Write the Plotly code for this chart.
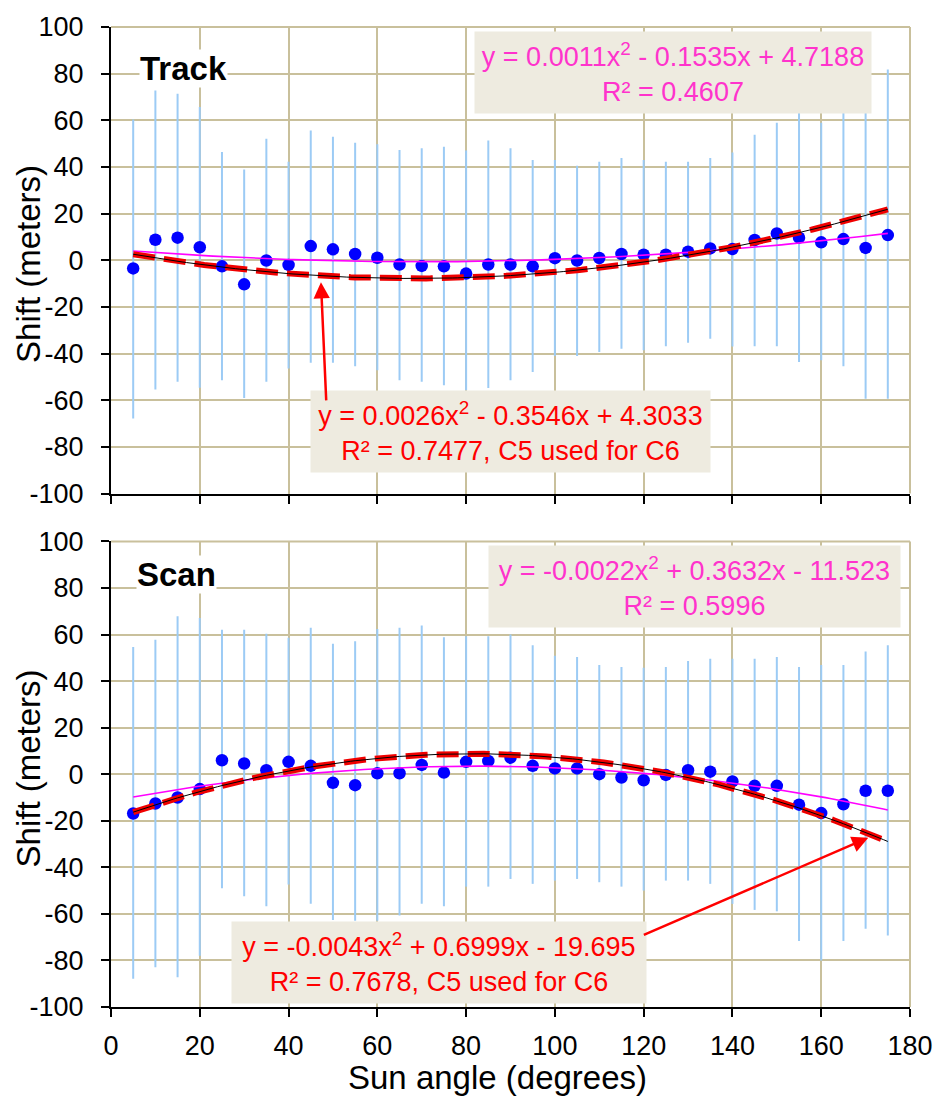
import numpy as np
import plotly.graph_objects as go

# ---------------- data ----------------
angles = [5, 10, 15, 20, 25, 30, 35, 40, 45, 50, 55, 60, 65, 70, 75, 80, 85, 90,
          95, 100, 105, 110, 115, 120, 125, 130, 135, 140, 145, 150, 155, 160, 165, 170, 175]

track_shift = [-3.5, 8.8, 9.7, 5.6, -2.6, -10.3, -0.1, -2.0, 6.1, 4.7,
               2.7, 1.1, -1.8, -2.4, -2.6, -5.7, -1.8, -1.8, -2.6, 0.9,
               -0.1, 1.0, 2.7, 2.4, 2.4, 3.7, 5.1, 4.8, 8.7, 11.5,
               9.7, 7.7, 9.1, 5.3, 10.8]
track_upper = [60.4, 72.8, 71.4, 65.7, 46.4, 38.9, 52.1, 42.2, 55.6, 53.0,
               50.4, 49.7, 47.3, 48.0, 48.7, 47.1, 51.4, 48.0, 43.0, 43.0,
               40.5, 42.2, 43.9, 43.0, 42.2, 42.2, 43.9, 46.2, 53.8, 59.0,
               64.0, 59.0, 64.0, 64.0, 81.8]
track_lower = [-67.8, -55.4, -52.1, -54.6, -51.4, -59.0, -52.1, -46.4, -43.9, -43.9,
               -45.4, -47.1, -51.4, -52.1, -53.6, -55.7, -54.7, -51.4, -47.9, -41.0,
               -41.0, -39.3, -37.9, -38.6, -36.9, -35.3, -33.6, -37.0, -36.9, -36.9,
               -43.6, -42.9, -45.4, -59.3, -59.3]

scan_shift = [-16.9, -12.6, -10.0, -6.4, 6.0, 4.6, 1.7, 5.3, 3.6, -3.7,
              -4.7, 0.4, 0.4, 4.0, 0.7, 5.3, 5.7, 7.1, 3.6, 2.5,
              2.5, 0.0, -1.4, -2.6, -0.3, 1.7, 1.1, -3.1, -5.0, -5.0,
              -13.1, -16.7, -12.9, -7.1, -7.1]
scan_upper = [54.6, 57.7, 67.8, 67.1, 62.1, 62.1, 60.3, 58.6, 62.9, 56.0,
              57.1, 62.4, 62.9, 63.9, 58.8, 59.3, 59.3, 60.0, 55.4, 50.9,
              50.3, 46.9, 46.1, 45.7, 46.1, 48.6, 49.6, 49.6, 49.6, 50.3,
              46.1, 46.9, 46.9, 52.7, 55.4]
scan_lower = [-87.9, -82.9, -87.2, -78.0, -49.0, -52.4, -56.7, -47.4, -55.7, -62.6,
              -62.9, -62.9, -60.7, -55.7, -56.7, -48.3, -48.3, -45.0, -47.1, -45.7,
              -45.0, -46.4, -48.3, -50.0, -45.7, -45.7, -47.1, -55.7, -58.3, -58.9,
              -71.7, -80.0, -71.7, -66.4, -69.3]

# trendline coefficients shown on the chart (x^2, x, 1)
track_fit_c5 = [0.0026, -0.3546, 4.3033]
track_fit_c6 = [0.0011, -0.1535, 4.7188]
scan_fit_c5 = [-0.0043, 0.6999, -19.695]
scan_fit_c6 = [-0.0022, 0.3632, -11.523]

track_eq_c6 = "y = 0.0011x<sup>2</sup> - 0.1535x + 4.7188<br>R² = 0.4607"
track_eq_c5 = "y = 0.0026x<sup>2</sup> - 0.3546x + 4.3033<br>R² = 0.7477, C5 used for C6"
scan_eq_c6 = "y = -0.0022x<sup>2</sup> + 0.3632x - 11.523<br>R² = 0.5996"
scan_eq_c5 = "y = -0.0043x<sup>2</sup> + 0.6999x - 19.695<br>R² = 0.7678, C5 used for C6"

x_ticks = [0, 20, 40, 60, 80, 100, 120, 140, 160, 180]
x_labels = ["0", "20", "40", "60", "80", "100", "120", "140", "160", "180"]
y_ticks = [-100, -80, -60, -40, -20, 0, 20, 40, 60, 80, 100]
y_labels = ["-100", "-80", "-60", "-40", "-20", "0", "20", "40", "60", "80", "100"]

# ---------------- styling ----------------
FONT = "Liberation Sans, Arial, sans-serif"
GRID = "#C9C09C"
BOXBG = "#EEEBE0"
MAGENTA_TXT = "#FF33CC"

fig = go.Figure()

xfit = np.linspace(min(angles), max(angles), 171)


def add_panel(shift, upper, lower, c5, c6, xa, ya):
    ep = [u - s for u, s in zip(upper, shift)]
    em = [s - l for s, l in zip(shift, lower)]
    fig.add_trace(go.Scatter(
        x=angles, y=shift, mode="markers", xaxis=xa, yaxis=ya,
        marker=dict(color="#0000FF", size=12.5),
        error_y=dict(type="data", symmetric=False, array=ep, arrayminus=em,
                     color="#9CCBF5", thickness=2, width=0),
        showlegend=False, hoverinfo="x+y"))
    fig.add_trace(go.Scatter(
        x=xfit, y=np.polyval(c6, xfit), mode="lines", xaxis=xa, yaxis=ya,
        line=dict(color="#FF00FF", width=1.6), showlegend=False))
    fig.add_trace(go.Scatter(
        x=xfit, y=np.polyval(c5, xfit), mode="lines", xaxis=xa, yaxis=ya,
        line=dict(color="#F00000", width=6, dash="22px,9px"), showlegend=False))
    fig.add_trace(go.Scatter(
        x=xfit, y=np.polyval(c5, xfit), mode="lines", xaxis=xa, yaxis=ya,
        line=dict(color="#000000", width=1.0), showlegend=False))


add_panel(track_shift, track_upper, track_lower, track_fit_c5, track_fit_c6, "x", "y")
add_panel(scan_shift, scan_upper, scan_lower, scan_fit_c5, scan_fit_c6, "x2", "y2")

axis_common = dict(
    range=[0, 180], tickvals=x_ticks, ticktext=x_labels, showgrid=True, gridcolor=GRID, gridwidth=2,
    zeroline=False, showline=True, linecolor="black", linewidth=2,
    ticks="outside", ticklen=8, tickwidth=2, tickcolor="black",
    tickfont=dict(family=FONT, size=27, color="black"), ticklabelstandoff=6,
)
yaxis_common = dict(
    range=[-100, 100], tickvals=y_ticks, ticktext=y_labels, showgrid=True, gridcolor=GRID, gridwidth=2,
    zeroline=False, showline=True, linecolor="black", linewidth=2,
    ticks="outside", ticklen=8, tickwidth=2, tickcolor="black",
    tickfont=dict(family=FONT, size=27, color="black"), ticklabelstandoff=12,
)

fig.update_layout(
    width=945, height=1104,
    margin=dict(l=111, r=28, t=24, b=97),
    paper_bgcolor="white", plot_bgcolor="white",
    font=dict(family=FONT, color="black"),
    xaxis=dict(axis_common, anchor="y", domain=[0, 1], showticklabels=False),
    yaxis=dict(yaxis_common, anchor="x", domain=[0.5239, 1]),
    xaxis2=dict(axis_common, anchor="y2", domain=[0, 1]),
    yaxis2=dict(yaxis_common, anchor="x2", domain=[0, 0.4751]),
)

# frame on top / right in grid colour
for xr, yr in (("x domain", "y domain"), ("x2 domain", "y2 domain")):
    fig.add_shape(type="line", xref=xr, yref=yr, x0=0, x1=1, y0=1, y1=1,
                  line=dict(color=GRID, width=2), layer="below")
    fig.add_shape(type="line", xref=xr, yref=yr, x0=1, x1=1, y0=0, y1=1,
                  line=dict(color=GRID, width=2), layer="below")

ann = []
# panel labels
ann.append(dict(x=16.3, y=82, xref="x", yref="y", text="<b>Track</b>", showarrow=False,
                font=dict(family=FONT, size=33, color="black"), bgcolor="white", borderpad=0))
ann.append(dict(x=14.7, y=85.8, xref="x2", yref="y2", text="<b>Scan</b>", showarrow=False,
                font=dict(family=FONT, size=33, color="black"), bgcolor="white", borderpad=0))

# equation boxes
ann.append(dict(x=126.6, y=80.6, xref="x", yref="y", text=track_eq_c6, showarrow=False,
                font=dict(family=FONT, size=27, color=MAGENTA_TXT), bgcolor=BOXBG,
                width=392, height=77, borderpad=2, align="center"))
ann.append(dict(x=89.9, y=-73.3, xref="x", yref="y", text=track_eq_c5, showarrow=False,
                font=dict(family=FONT, size=27, color="#FF0000"), bgcolor=BOXBG,
                width=395, height=77, borderpad=2, align="center"))
ann.append(dict(x=131.4, y=80.5, xref="x2", yref="y2", text=scan_eq_c6, showarrow=False,
                font=dict(family=FONT, size=27, color=MAGENTA_TXT), bgcolor=BOXBG,
                width=407, height=77, borderpad=2, align="center"))
ann.append(dict(x=73.9, y=-80.7, xref="x2", yref="y2", text=scan_eq_c5, showarrow=False,
                font=dict(family=FONT, size=27, color="#FF0000"), bgcolor=BOXBG,
                width=410, height=77, borderpad=2, align="center"))

# arrows
ann.append(dict(x=47.3, y=-9.4, xref="x", yref="y", ax=48.5, ay=-60.7, axref="x", ayref="y",
                text="", showarrow=True, arrowhead=2, arrowsize=1.3, arrowwidth=2.5,
                arrowcolor="#FF0000", standoff=0))
ann.append(dict(x=170.6, y=-27.3, xref="x2", yref="y2", ax=119.7, ay=-69.3, axref="x2", ayref="y2",
                text="", showarrow=True, arrowhead=2, arrowsize=1.3, arrowwidth=2.5,
                arrowcolor="#FF0000", standoff=0))

# axis titles
ann.append(dict(x=-0.103, y=(1007 - 262) / 983, xref="paper", yref="paper", text="Shift (meters)",
                textangle=-90, xanchor="center", yanchor="middle", showarrow=False,
                font=dict(family=FONT, size=33, color="black")))
ann.append(dict(x=-0.103, y=(1007 - 768) / 983, xref="paper", yref="paper", text="Shift (meters)",
                textangle=-90, xanchor="center", yanchor="middle", showarrow=False,
                font=dict(family=FONT, size=33, color="black")))
ann.append(dict(x=0.484, y=(1007 - 1078) / 983, xref="paper", yref="paper", text="Sun angle (degrees)",
                xanchor="center", yanchor="middle", showarrow=False,
                font=dict(family=FONT, size=33, color="black")))

fig.update_layout(annotations=ann)

fig.write_html("out.html")
